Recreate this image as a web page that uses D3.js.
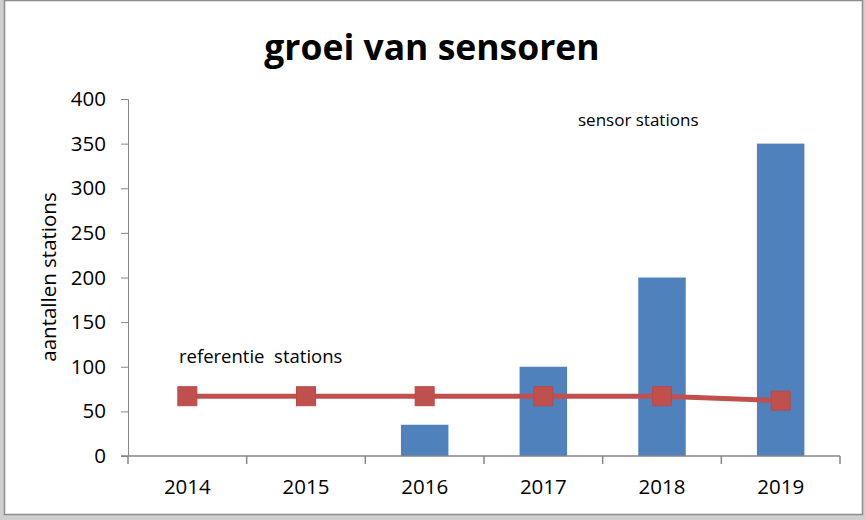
<!DOCTYPE html>
<html>
<head>
<meta charset="utf-8">
<script src="https://cdn.jsdelivr.net/npm/d3@7"></script>
<style>
  body { margin: 0; background: #cfcfcf; }
  svg { display: block; font-family: 'Open Sans', sans-serif; }
</style>
</head>
<body>
<div class="chart"></div>
<script>
const years = ['2014', '2015', '2016', '2017', '2018', '2019'];
const sensorStations = [0, 0, 35, 100, 200, 350];
const referentieStations = [67, 67, 67, 67, 67, 62];
const yTicks = [0, 50, 100, 150, 200, 250, 300, 350, 400];

function displayChart() {
  const w = 865;
  const h = 520;
  const padding = {
    top: 99,
    right: 25,
    bottom: 64,
    left: 128
  };
  const plotBottom = 456;

  const svg = d3.select('.chart')
    .append('svg')
    .attr('width', w)
    .attr('height', h);

  // chart frame
  svg.append('rect')
    .attr('x', 4.5)
    .attr('y', 0.5)
    .attr('width', 858)
    .attr('height', 514)
    .attr('fill', '#fff')
    .attr('stroke', '#8c8c8c')
    .attr('stroke-width', 1.5);

  const xScale = d3.scaleBand()
    .domain(years)
    .range([padding.left, 840]);
  const yScale = d3.scaleLinear()
    .domain([0, 400])
    .range([plotBottom, padding.top]);

  // bars
  const barW = xScale.bandwidth() * 0.4;
  svg.selectAll('rect.bar')
    .data(years.map((y, i) => ({ year: y, value: sensorStations[i] })).filter((d) => d.value > 0))
    .enter()
    .append('rect')
    .attr('class', 'bar')
    .attr('x', (d) => xScale(d.year) + xScale.bandwidth() / 2 - barW / 2)
    .attr('y', (d) => yScale(d.value))
    .attr('width', barW)
    .attr('height', (d) => plotBottom - yScale(d.value))
    .attr('fill', '#4f81bd');

  // y axis
  const yAxis = svg.append('g')
    .attr('transform', `translate(${padding.left}, 0)`)
    .call(d3.axisLeft(yScale).tickValues(yTicks).tickSize(7).tickPadding(15));
  yAxis.select('.domain').attr('stroke', '#868686').attr('d', `M-7,${padding.top + 0.5}H0.5V${plotBottom}`);
  yAxis.selectAll('.tick line').attr('stroke', '#868686');
  yAxis.selectAll('.tick text')
    .attr('font-size', 20.5)
    .attr('font-family', "'Open Sans', sans-serif")
    .attr('fill', '#000');

  // x axis
  const xAxis = svg.append('g')
    .attr('transform', `translate(0, ${plotBottom})`);
  xAxis.append('line')
    .attr('x1', padding.left - 7)
    .attr('x2', 840)
    .attr('stroke', '#868686')
    .attr('stroke-width', 1.5);
  const edges = years.map((y) => xScale(y)).concat([840]);
  xAxis.selectAll('line.tick')
    .data(edges)
    .enter()
    .append('line')
    .attr('class', 'tick')
    .attr('x1', (d) => d)
    .attr('x2', (d) => d)
    .attr('y1', 0)
    .attr('y2', 8)
    .attr('stroke', '#868686')
    .attr('stroke-width', 1.5);
  xAxis.selectAll('text')
    .data(years)
    .enter()
    .append('text')
    .attr('x', (d) => xScale(d) + xScale.bandwidth() / 2)
    .attr('y', 38)
    .attr('text-anchor', 'middle')
    .attr('font-size', 20.5)
    .text((d) => d);

  // line series
  const line = d3.line()
    .x((d, i) => xScale(years[i]) + xScale.bandwidth() / 2)
    .y((d) => yScale(d));
  svg.append('path')
    .datum(referentieStations)
    .attr('d', line)
    .attr('fill', 'none')
    .attr('stroke', '#c0504d')
    .attr('stroke-width', 5);
  svg.selectAll('rect.marker')
    .data(referentieStations)
    .enter()
    .append('rect')
    .attr('class', 'marker')
    .attr('x', (d, i) => xScale(years[i]) + xScale.bandwidth() / 2 - 9.5)
    .attr('y', (d) => yScale(d) - 9.5)
    .attr('width', 19)
    .attr('height', 19)
    .attr('fill', '#c0504d')
    .attr('stroke', '#b94a47')
    .attr('stroke-width', 1);

  // title
  svg.append('text')
    .attr('x', 432)
    .attr('y', 60)
    .attr('text-anchor', 'middle')
    .attr('font-size', 35.5)
    .attr('font-weight', 'bold')
    .text('groei van sensoren');

  // y axis label
  svg.append('text')
    .attr('transform', 'translate(56, 277) rotate(-90)')
    .attr('text-anchor', 'middle')
    .attr('font-size', 20.5)
    .text('aantallen stations');

  // series labels
  svg.append('text')
    .attr('x', 179)
    .attr('y', 363)
    .attr('font-size', 18.5)
    .attr('xml:space', 'preserve')
    .style('white-space', 'pre')
    .text('referentie  stations');

  svg.append('text')
    .attr('x', 578)
    .attr('y', 126)
    .attr('font-size', 17)
    .text('sensor stations');
}

displayChart();
</script>
</body>
</html>
